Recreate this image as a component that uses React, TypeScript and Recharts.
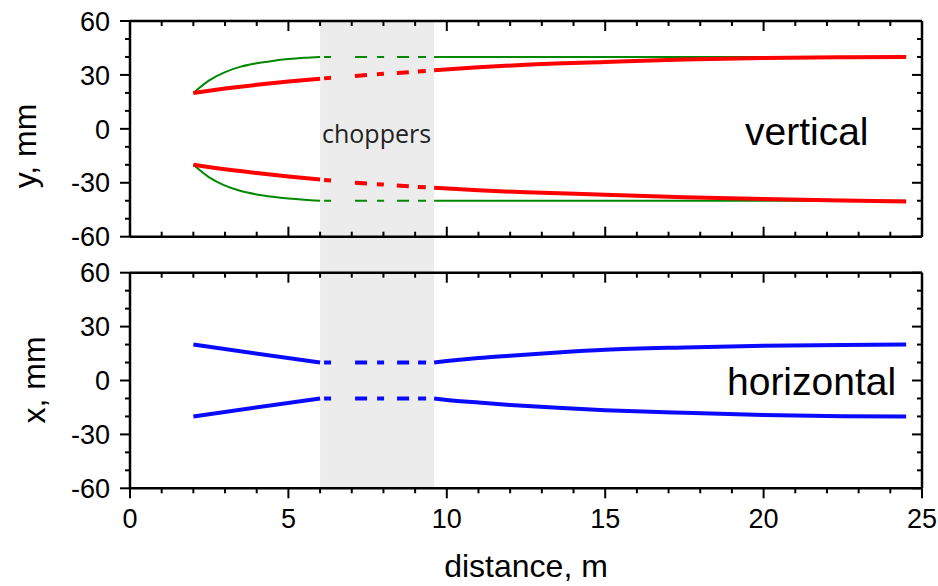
import { LineChart, Line, XAxis, YAxis, ReferenceArea } from 'recharts'

const FONT = '"Liberation Sans", Arial, sans-serif'
const W = 938
const H = 586

// axis ticks
const xTicks = [0, 1, 2, 3, 4, 5, 6, 7, 8, 9, 10, 11, 12, 13, 14, 15, 16, 17, 18, 19, 20, 21, 22, 23, 24, 25]
const yTicks = [-60, -50, -40, -30, -20, -10, 0, 10, 20, 30, 40, 50, 60]

// choppers region, m
const chopFrom = 6
const chopTo = 9.6

// vertical: green envelope
const gX1 = [2, 2.5, 3, 3.5, 4, 4.5, 5, 5.5, 6]
const gUp1 = [20, 27, 31.6, 34.6, 36.5, 37.8, 38.8, 39.5, 40]
const gLo1 = [-20, -27, -31.6, -34.6, -36.5, -37.8, -38.8, -39.5, -40]
const gX2 = [6, 9.6]
const gUp2 = [40, 40]
const gLo2 = [-40, -40]
const gX3 = [9.6, 24.5]
const gUp3 = [40, 40]
const gLo3 = [-40, -40]

// vertical: red beam
const rX1 = [2, 3, 4, 5, 6]
const rUp1 = [20, 22.4, 24.5, 26.3, 27.9]
const rLo1 = [-20, -22.5, -24.6, -26.5, -28.2]
const rX2 = [6, 7, 8, 9, 9.6]
const rUp2 = [27.9, 29.3, 30.6, 31.8, 32.6]
const rLo2 = [-28.2, -29.8, -31, -32.2, -32.8]
const rX3 = [9.6, 11, 12.5, 15, 17.5, 20, 22.5, 24.5]
const rUp3 = [32.6, 34.3, 35.7, 37.2, 38.6, 39.4, 39.8, 40]
const rLo3 = [-32.8, -34.2, -35.3, -36.6, -38, -39, -39.8, -40.4]

// horizontal: blue beam
const bX1 = [2, 6]
const bUp1 = [20, 10]
const bLo1 = [-20, -10]
const bX2 = [6, 9.6]
const bUp2 = [10, 10]
const bLo2 = [-10, -10]
const bX3 = [9.6, 10, 11, 12, 13.5, 15, 17.5, 20, 22.5, 24.5]
const bUp3 = [10, 10.8, 12.5, 13.8, 15.6, 17.1, 18.4, 19.3, 19.8, 20]
const bLo3 = [-10, -10.8, -12.3, -13.6, -15.2, -16.5, -18, -19.2, -19.9, -20.1]

const pts = (xs: number[], ys: number[]) => xs.map((d, i) => ({ d, v: ys[i] }))

const GREEN = '#008800'
const RED = '#ff0000'
const BLUE = '#0a0aff'
const DASH = '0 4 7 24 12 10 7 13 12 9 8 30'
const AX = { stroke: '#000', strokeWidth: 2.5 }

// tick renderers (dir: direction of the tick mark)
function tickX(dir: number, labels: boolean) {
  return (p: any) => {
    const v = p.payload.value
    const major = v % 5 === 0
    return (
      <g>
        <line x1={p.x} x2={p.x} y1={p.y} y2={p.y + dir * (major ? 10 : 5)} stroke="#000" strokeWidth={2} />
        {labels && major && (
          <text x={p.x} y={p.y + 40} textAnchor="middle" fontSize={27} fontFamily={FONT} fill="#000">{v}</text>
        )}
      </g>
    )
  }
}

function tickY(dir: number, labels: boolean) {
  return (p: any) => {
    const v = p.payload.value
    const major = v % 30 === 0
    return (
      <g>
        <line x1={p.x} x2={p.x + dir * (major ? 10 : 5)} y1={p.y} y2={p.y} stroke="#000" strokeWidth={2} />
        {labels && major && (
          <text x={p.x - 20} y={p.y} dy="0.36em" textAnchor="end" fontSize={27} fontFamily={FONT} fill="#000">{v}</text>
        )}
      </g>
    )
  }
}

function seg(key: string, xs: number[], ys: number[], color: string, width: number, dashed: boolean, type: 'monotone' | 'linear' = 'monotone') {
  return (
    <Line
      key={key}
      data={pts(xs, ys)}
      dataKey="v"
      type={type}
      stroke={color}
      strokeWidth={width}
      strokeDasharray={dashed ? DASH : undefined}
      dot={false}
      activeDot={false}
      isAnimationActive={false}
    />
  )
}

// axes need width/height > 0 to be drawn, so they get 1px and the margins shrink by 1
function Panel({ top, bottom, xLabels, bandLow, lines }: { top: number; bottom: number; xLabels: boolean; bandLow: number; lines: any[] }) {
  return (
    <div style={{ position: 'absolute', left: 0, top: 0 }}>
      <LineChart width={W} height={H} margin={{ top: top - 1, bottom: bottom - 1, left: 129, right: 15 }}>
        <XAxis type="number" dataKey="d" domain={[0, 25]} ticks={xTicks} interval={0} height={1}
          tickSize={0} tickMargin={0} tickLine={false} axisLine={AX} tick={tickX(xLabels ? 1 : -1, xLabels)} allowDataOverflow />
        <XAxis xAxisId="t" orientation="top" type="number" dataKey="d" domain={[0, 25]} ticks={xTicks} interval={0} height={1}
          tickSize={0} tickMargin={0} tickLine={false} axisLine={AX} tick={tickX(1, false)} allowDataOverflow />
        <YAxis type="number" domain={[-60, 60]} ticks={yTicks} interval={0} width={1}
          tickSize={0} tickMargin={0} tickLine={false} axisLine={AX} tick={tickY(-1, true)} allowDataOverflow />
        <YAxis yAxisId="r" orientation="right" type="number" domain={[-60, 60]} ticks={yTicks} interval={0} width={1}
          tickSize={0} tickMargin={0} tickLine={false} axisLine={AX} tick={tickY(-1, false)} allowDataOverflow />
        <ReferenceArea x1={chopFrom} x2={chopTo} y1={bandLow} y2={60} fill="#ececec" fillOpacity={1} stroke="none" ifOverflow="visible" />
        {lines}
      </LineChart>
    </div>
  )
}

export default function App() {
  const vertical = [
    seg('g1u', gX1, gUp1, GREEN, 2, false),
    seg('g1l', gX1, gLo1, GREEN, 2, false),
    seg('g2u', gX2, gUp2, GREEN, 2, true, 'linear'),
    seg('g2l', gX2, gLo2, GREEN, 2, true, 'linear'),
    seg('g3u', gX3, gUp3, GREEN, 2, false, 'linear'),
    seg('g3l', gX3, gLo3, GREEN, 2, false, 'linear'),
    seg('r1u', rX1, rUp1, RED, 4, false),
    seg('r1l', rX1, rLo1, RED, 4, false),
    seg('r2u', rX2, rUp2, RED, 4, true),
    seg('r2l', rX2, rLo2, RED, 4, true),
    seg('r3u', rX3, rUp3, RED, 4, false),
    seg('r3l', rX3, rLo3, RED, 4, false),
  ]
  const horizontal = [
    seg('b1u', bX1, bUp1, BLUE, 4, false, 'linear'),
    seg('b1l', bX1, bLo1, BLUE, 4, false, 'linear'),
    seg('b2u', bX2, bUp2, BLUE, 4, true, 'linear'),
    seg('b2l', bX2, bLo2, BLUE, 4, true, 'linear'),
    seg('b3u', bX3, bUp3, BLUE, 4, false),
    seg('b3l', bX3, bLo3, BLUE, 4, false),
  ]
  return (
    <div style={{ position: 'absolute', left: 0, top: 0, width: W, height: H, background: '#fff' }}>
      <Panel top={21} bottom={H - 236.7} xLabels={false} bandLow={-80.2} lines={vertical} />
      <Panel top={272.7} bottom={H - 488.3} xLabels={true} bandLow={-60} lines={horizontal} />
      <svg width={W} height={H} style={{ position: 'absolute', left: 0, top: 0, pointerEvents: 'none' }} fontFamily={FONT}>
        <text transform="translate(36,146) rotate(-90)" textAnchor="middle" fontSize={32} fill="#000">y, mm</text>
        <text transform="translate(45,380) rotate(-90)" textAnchor="middle" fontSize={32} fill="#000">x, mm</text>
        <text x={526} y={577} textAnchor="middle" fontSize={32} fill="#000">distance, m</text>
        <text x={745} y={145} fontSize={39} fill="#000">vertical</text>
        <text x={727} y={395} fontSize={39} fill="#000">horizontal</text>
        <text x={322} y={143} fontSize={25} fontFamily='"Open Sans", sans-serif' fill="#222">choppers</text>
      </svg>
    </div>
  )
}
